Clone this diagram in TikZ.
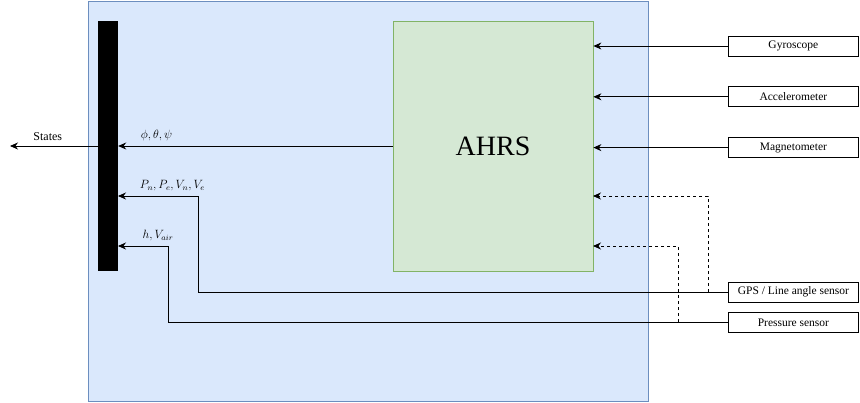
\documentclass[tikz,border=0pt]{standalone}
\usepackage{fontspec}
\setmainfont{Liberation Serif}
\usetikzlibrary{arrows.meta, positioning}
\definecolor{panelblue}{HTML}{DAE8FC}
\definecolor{panelline}{HTML}{6C8EBF}
\definecolor{ahrsgreen}{HTML}{D5E8D4}
\definecolor{ahrsline}{HTML}{82B366}

\begin{document}
\begin{tikzpicture}[x=1pt, y=-1pt,
    sensor/.style={draw, line width=0.8pt, minimum width=130pt, minimum height=20pt, inner sep=0pt, font=\fontsize{11.5}{13}\selectfont},
    lbl/.style={font=\fontsize{12}{14}\selectfont, inner sep=2pt},
    arrow/.style={-{Stealth[length=8pt, width=7pt]}, line width=0.8pt}
  ]
  \useasboundingbox (0,0) rectangle (860,402);

  % panel, output bar and estimator
  \node[draw=panelline, fill=panelblue, line width=0.8pt, minimum width=560pt, minimum height=400pt] (panel) at (368,201) {};
  \node[fill=black, minimum width=20pt, minimum height=250pt, inner sep=0pt] (bar) at (108,146) {};
  \node[draw=ahrsline, fill=ahrsgreen, line width=0.8pt, minimum width=200pt, minimum height=250pt, font=\fontsize{28}{30}\selectfont] (ahrs) at (493,146) {AHRS};

  % sensors
  \node[sensor, anchor=west] (gyro) at (728,46) {Gyroscope};
  \node[sensor, below=30pt of gyro] (accel) {Accelerometer};
  \node[sensor, below=30pt of accel] (magneto) {Magnetometer};
  \node[sensor, anchor=west] (gps) at (728,292) {GPS / Line angle sensor};
  \node[sensor, below=10pt of gps] (pressure) {Pressure sensor};

  \coordinate (states) at (10,146);
  \coordinate (gpscorner) at (198,196);
  \coordinate (gpsbar) at (118,196);
  \coordinate (prescorner) at (168,246);
  \coordinate (presbar) at (118,246);
  \coordinate (gpstap) at (708,292);
  \coordinate (gpsahrs) at (593,196);
  \coordinate (prestap) at (678,322);
  \coordinate (presahrs) at (593,246);

  \draw[arrow] (gyro.west) -- (gyro.west -| ahrs.east);
  \draw[arrow] (accel.west) -- (accel.west -| ahrs.east);
  \draw[arrow] (magneto.west) -- (magneto.west -| ahrs.east);
  \draw[arrow] (ahrs.west) -- node[lbl, above=3pt, pos=0.86] {$\phi, \theta, \psi$} (ahrs.west -| bar.east);
  \draw[arrow] (bar.west) -- node[lbl, above=3pt, pos=0.57] {States} (states);

  \draw[arrow] (gps.west) -| (gpscorner) -- node[lbl, above=3pt, pos=0.32] {$P_n, P_e, V_n, V_e$} (gpsbar);
  \draw[arrow] (pressure.west) -| (prescorner) -- node[lbl, above=3pt, pos=0.2] {$h, V_{air}$} (presbar);
  \draw[arrow, dashed] (gpstap) |- (gpsahrs);
  \draw[arrow, dashed] (prestap) |- (presahrs);
\end{tikzpicture}
\end{document}
